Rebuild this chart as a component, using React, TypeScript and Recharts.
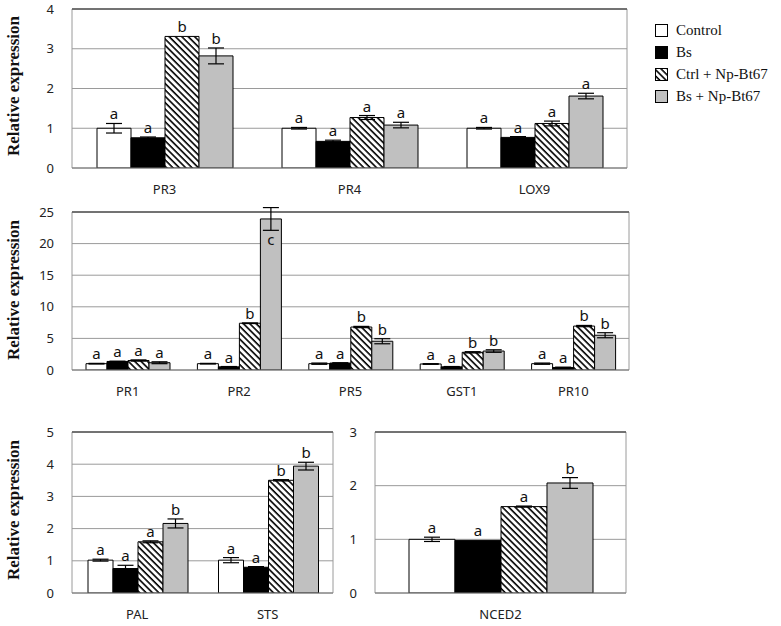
import { BarChart, Bar, XAxis, YAxis, CartesianGrid, ErrorBar, LabelList, ReferenceLine } from "recharts";

// series: Control, Bs, Ctrl + Np-Bt67, Bs + Np-Bt67
const SERIES = [
  { name: "Control", fill: "#ffffff" },
  { name: "Bs", fill: "#000000" },
  { name: "Ctrl + Np-Bt67", fill: "url(#hatch)" },
  { name: "Bs + Np-Bt67", fill: "#c0c0c0" },
];

// top panel
const TOP_GENES = ["PR3", "PR4", "LOX9"];
const TOP_VALUES = [
  [1.0, 1.0, 1.0],
  [0.76, 0.67, 0.77],
  [3.31, 1.27, 1.12],
  [2.82, 1.08, 1.81],
];
const TOP_ERRORS = [
  [0.12, 0.02, 0.02],
  [0.02, 0.03, 0.02],
  [0.0, 0.05, 0.06],
  [0.2, 0.07, 0.07],
];
const TOP_LETTERS = [
  ["a", "a", "a"],
  ["a", "a", "a"],
  ["b", "a", "a"],
  ["b", "a", "a"],
];
const TOP_TICKS = [0, 1, 2, 3, 4];

// middle panel
const MID_GENES = ["PR1", "PR2", "PR5", "GST1", "PR10"];
const MID_VALUES = [
  [1.0, 1.0, 1.0, 0.95, 1.0],
  [1.35, 0.5, 1.1, 0.5, 0.4],
  [1.5, 7.4, 6.8, 2.8, 6.95],
  [1.15, 23.9, 4.55, 3.0, 5.5],
];
const MID_ERRORS = [
  [0.05, 0.05, 0.1, 0.05, 0.1],
  [0.05, 0.05, 0.05, 0.05, 0.05],
  [0.1, 0.05, 0.1, 0.1, 0.1],
  [0.15, 1.8, 0.4, 0.2, 0.4],
];
const MID_LETTERS = [
  ["a", "a", "a", "a", "a"],
  ["a", "a", "a", "a", "a"],
  ["a", "b", "b", "b", "b"],
  ["a", "c", "b", "b", "b"],
];
const MID_TICKS = [0, 5, 10, 15, 20, 25];

// bottom left panel
const BL_GENES = ["PAL", "STS"];
const BL_VALUES = [
  [1.02, 1.02],
  [0.76, 0.8],
  [1.59, 3.5],
  [2.16, 3.94],
];
const BL_ERRORS = [
  [0.03, 0.08],
  [0.1, 0.02],
  [0.03, 0.02],
  [0.14, 0.12],
];
const BL_LETTERS = [
  ["a", "a"],
  ["a", "a"],
  ["a", "b"],
  ["b", "b"],
];
const BL_TICKS = [0, 1, 2, 3, 4, 5];

// bottom right panel
const BR_GENES = ["NCED2"];
const BR_VALUES = [[1.0], [0.98], [1.61], [2.05]];
const BR_ERRORS = [[0.04], [0.0], [0.01], [0.1]];
const BR_LETTERS = [["a"], ["a"], ["a"], ["b"]];
const BR_TICKS = [0, 1, 2, 3];

function buildRows(genes: string[], values: number[][], errors: number[][], letters: string[][]) {
  return genes.map((gene, g) => {
    const row: any = { gene };
    SERIES.forEach((_, s) => {
      row[`v${s}`] = values[s][g];
      row[`e${s}`] = errors[s][g];
      row[`l${s}`] = letters[s][g];
    });
    return row;
  });
}

const tickFont = { fontFamily: "'Noto Sans', sans-serif", fontSize: 13, fill: "#222" };

function letterLabel(rows: any[], s: number, yMax: number) {
  return (p: any) => {
    const row = rows[p.index];
    if (!row) return null;
    const v = row[`v${s}`];
    const e = row[`e${s}`];
    const ppu = v > 0 ? p.height / v : 0;
    const errPx = e * ppu;
    const inside = v + e > yMax;
    const ty = inside ? p.y + errPx + 15 : p.y - errPx - 4;
    return (
      <text
        x={p.x + p.width / 2}
        y={ty}
        textAnchor="middle"
        fontFamily="'Noto Sans', sans-serif"
        fontSize={15}
        fill="#111"
      >
        {p.value}
      </text>
    );
  };
}

interface PanelProps {
  rows: any[];
  ticks: number[];
  left: number;
  top: number;
  width: number;
  height: number;
  margin: { top: number; right: number; left: number; bottom: number };
  yAxisWidth: number;
  gap: number;
}

function Panel({ rows, ticks, left, top, width, height, margin, yAxisWidth, gap }: PanelProps) {
  const yMax = ticks[ticks.length - 1];
  return (
    <div style={{ position: "absolute", left, top, width, height }}>
      <BarChart width={width} height={height} data={rows} margin={margin} barGap={0} barCategoryGap={gap}>
        <CartesianGrid
          stroke="#9a9a9a"
          verticalCoordinatesGenerator={({ offset }: any) => [offset.left, offset.left + offset.width]}
        />
        <XAxis
          dataKey="gene"
          height={37}
          tickSize={0}
          tickMargin={17}
          axisLine={{ stroke: "#777" }}
          tick={tickFont}
        />
        <YAxis
          width={yAxisWidth}
          domain={[0, yMax]}
          allowDataOverflow
          ticks={ticks}
          interval={0}
          tickSize={0}
          tickMargin={18}
          axisLine={false}
          tick={tickFont}
        />
        <ReferenceLine y={yMax} stroke="#555" strokeWidth={1.5} />
        {SERIES.map((s, i) => (
          <Bar
            key={s.name}
            dataKey={`v${i}`}
            name={s.name}
            fill={s.fill}
            stroke="#000"
            strokeWidth={1}
            isAnimationActive={false}
          >
            <ErrorBar dataKey={`e${i}`} width={8} stroke="#000" strokeWidth={1.2} direction="y" />
            <LabelList dataKey={`l${i}`} content={letterLabel(rows, i, yMax)} />
          </Bar>
        ))}
      </BarChart>
    </div>
  );
}

function YLabel({ cx, cy }: { cx: number; cy: number }) {
  return (
    <div
      style={{
        position: "absolute",
        left: cx,
        top: cy,
        transform: "translate(-50%, -50%) rotate(-90deg)",
        whiteSpace: "nowrap",
        fontFamily: "'Liberation Serif', serif",
        fontWeight: "bold",
        fontSize: 17,
        color: "#111",
      }}
    >
      Relative expression
    </div>
  );
}

function Legend() {
  return (
    <div style={{ position: "absolute", left: 655, top: 19 }}>
      {SERIES.map((s) => (
        <div
          key={s.name}
          style={{
            display: "flex",
            alignItems: "center",
            height: 22,
            fontFamily: "'Liberation Serif', serif",
            fontSize: 15,
            color: "#111",
          }}
        >
          <svg width={13} height={13} style={{ marginRight: 8 }}>
            <rect x={0.5} y={0.5} width={12} height={12} fill={s.fill} stroke="#000" strokeWidth={1} />
          </svg>
          {s.name}
        </div>
      ))}
    </div>
  );
}

export default function App() {
  const topRows = buildRows(TOP_GENES, TOP_VALUES, TOP_ERRORS, TOP_LETTERS);
  const midRows = buildRows(MID_GENES, MID_VALUES, MID_ERRORS, MID_LETTERS);
  const blRows = buildRows(BL_GENES, BL_VALUES, BL_ERRORS, BL_LETTERS);
  const brRows = buildRows(BR_GENES, BR_VALUES, BR_ERRORS, BR_LETTERS);

  return (
    <div style={{ position: "absolute", left: 0, top: 0, width: 781, height: 626, background: "#fff" }}>
      <svg width={0} height={0} style={{ position: "absolute" }}>
        <defs>
          <pattern id="hatch" width={4.5} height={4.5} patternUnits="userSpaceOnUse" patternTransform="rotate(45)">
            <rect width={4.5} height={4.5} fill="#fff" />
            <line x1={0} y1={0.8} x2={4.5} y2={0.8} stroke="#000" strokeWidth={1.6} />
          </pattern>
        </defs>
      </svg>

      <Panel
        rows={topRows}
        ticks={TOP_TICKS}
        left={0}
        top={0}
        width={640}
        height={205}
        margin={{ top: 9, right: 13, left: 0, bottom: 0 }}
        yAxisWidth={72}
        gap={25}
      />
      <Panel
        rows={midRows}
        ticks={MID_TICKS}
        left={0}
        top={200}
        width={640}
        height={207}
        margin={{ top: 12, right: 11, left: 0, bottom: 0 }}
        yAxisWidth={72}
        gap={14}
      />
      <Panel
        rows={blRows}
        ticks={BL_TICKS}
        left={0}
        top={420}
        width={340}
        height={210}
        margin={{ top: 12, right: 7, left: 0, bottom: 0 }}
        yAxisWidth={72}
        gap={16}
      />
      <Panel
        rows={brRows}
        ticks={BR_TICKS}
        left={340}
        top={420}
        width={290}
        height={210}
        margin={{ top: 12, right: 4, left: 0, bottom: 0 }}
        yAxisWidth={35}
        gap={34}
      />

      <YLabel cx={14} cy={86} />
      <YLabel cx={14} cy={290} />
      <YLabel cx={14} cy={510} />
      <Legend />
    </div>
  );
}
